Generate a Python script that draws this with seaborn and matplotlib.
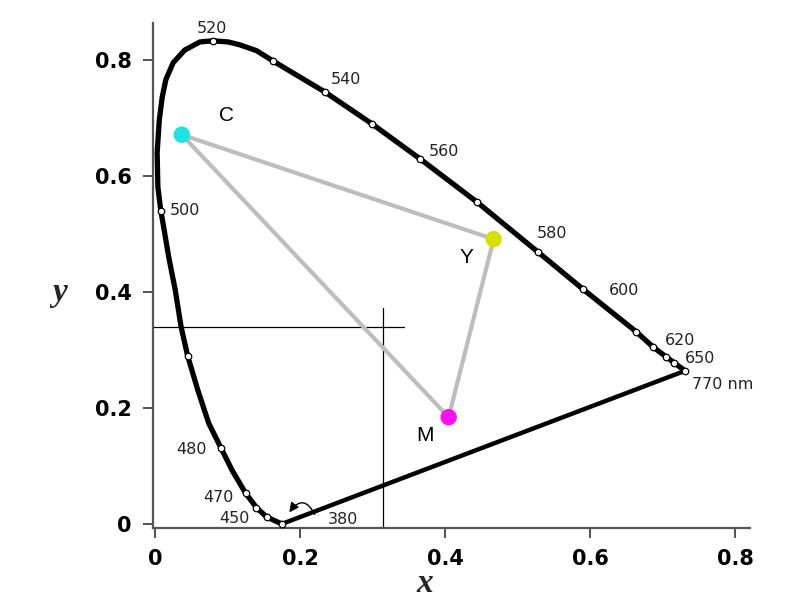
"""
CIE chromaticity diagram with a CMY triangle
"""

import matplotlib
matplotlib.use("Agg")
import matplotlib.pyplot as plt
import seaborn as sns
import pandas as pd

# spectral locus (starts at 380 nm, ends at 770 nm)
locus_x = [0.175, 0.154, 0.140, 0.125, 0.107, 0.091, 0.074, 0.059, 0.045, 0.036,
           0.028, 0.019, 0.011, 0.008, 0.004, 0.003, 0.006, 0.010, 0.015, 0.025,
           0.041, 0.062, 0.080, 0.101, 0.117, 0.140, 0.163, 0.234, 0.299, 0.366,
           0.444, 0.528, 0.590, 0.664, 0.687, 0.705, 0.716, 0.731]
locus_y = [0.000, 0.012, 0.028, 0.053, 0.091, 0.131, 0.174, 0.231, 0.290, 0.340,
           0.403, 0.460, 0.519, 0.540, 0.581, 0.640, 0.697, 0.736, 0.766, 0.795,
           0.817, 0.831, 0.833, 0.831, 0.826, 0.816, 0.798, 0.745, 0.690, 0.629,
           0.555, 0.469, 0.405, 0.331, 0.305, 0.288, 0.278, 0.264]
# which locus points carry a small wavelength marker
marked = [1, 1, 1, 1, 0, 1, 0, 0, 1, 0,
          0, 0, 0, 1, 0, 0, 0, 0, 0, 0,
          0, 0, 1, 0, 0, 0, 1, 1, 1, 1,
          1, 1, 1, 1, 1, 1, 1, 1]

wl_labels = ["520", "540", "560", "580", "600", "620", "650", "770 nm",
             "500", "480", "470", "450", "380"]
wl_x = [0.079, 0.263, 0.398, 0.547, 0.647, 0.724, 0.751, 0.740,
        0.021, 0.050, 0.087, 0.110, 0.259]
wl_y = [0.855, 0.766, 0.642, 0.500, 0.403, 0.317, 0.286, 0.240,
        0.540, 0.129, 0.045, 0.010, 0.007]

# primaries of the triangle
prim_names = ["C", "Y", "M"]
prim_x = [0.037, 0.467, 0.405]
prim_y = [0.671, 0.491, 0.184]
prim_colors = ["#1fe0e4", "#dcdc00", "#ff10f0"]
prim_label_x = [0.099, 0.430, 0.372]
prim_label_y = [0.705, 0.459, 0.152]

# reference cross
cross_x = 0.314
cross_y = 0.340


def main():
    sns.set_theme(style="ticks")
    plt.rcParams["font.family"] = ["DejaVu Sans"]

    fig = plt.figure(figsize=(8, 6), dpi=100)
    ax = fig.add_axes([0.191, 0.12, 0.746, 0.842])

    locus = pd.DataFrame({"x": locus_x, "y": locus_y, "marked": marked})

    # reference cross lines
    ax.plot([-0.003, 0.344], [cross_y, cross_y], color="black", lw=0.9, zorder=1)
    ax.plot([cross_x, cross_x], [-0.01, 0.372], color="black", lw=0.9, zorder=1)

    # spectral locus and purple line
    sns.lineplot(data=locus, x="x", y="y", sort=False, estimator=None,
                 color="black", lw=3.8, ax=ax, zorder=3,
                 solid_joinstyle="round", solid_capstyle="round")
    ax.plot([locus_x[-1], locus_x[0]], [locus_y[-1], locus_y[0]],
            color="black", lw=3.2, zorder=3, solid_capstyle="round")
    dots = locus[locus["marked"] == 1]
    sns.scatterplot(data=dots, x="x", y="y", s=22, color="white",
                    edgecolor="black", linewidth=0.9, ax=ax, zorder=4)

    # small arrow near 380 nm
    ax.annotate("", xy=(0.183, 0.016), xytext=(0.222, 0.012),
                arrowprops=dict(arrowstyle="-|>", connectionstyle="arc3,rad=0.9",
                                color="black", lw=1.0, mutation_scale=14), zorder=5)

    for lab, tx, ty in zip(wl_labels, wl_x, wl_y):
        ha = "left" if lab in ("500", "770 nm") else "center"
        ax.text(tx, ty, lab, ha=ha, va="center", fontsize=11.5, color="#222222")

    # CMY triangle
    tri_x = prim_x + [prim_x[0]]
    tri_y = prim_y + [prim_y[0]]
    ax.plot(tri_x, tri_y, color="#bdbdbd", lw=3, zorder=5, solid_capstyle="round")
    sns.scatterplot(x=prim_x, y=prim_y, hue=prim_names, palette=prim_colors,
                    s=140, edgecolor="none", legend=False, ax=ax, zorder=6)
    for name, tx, ty in zip(prim_names, prim_label_x, prim_label_y):
        ax.text(tx, ty, name, ha="center", va="center", fontsize=15,
                family="Liberation Sans", color="black")

    ax.set_xlim(-0.003, 0.82)
    ax.set_ylim(-0.007, 0.864)
    ax.set_xticks([0, 0.2, 0.4, 0.6, 0.8])
    ax.set_xticklabels(["0", "0.2", "0.4", "0.6", "0.8"])
    ax.set_yticks([0, 0.2, 0.4, 0.6, 0.8])
    ax.set_yticklabels(["0", "0.2", "0.4", "0.6", "0.8"])
    ax.tick_params(axis="both", direction="out", length=7, width=1.2,
                   colors="#333333", labelsize=15, pad=8)
    for lbl in ax.get_xticklabels() + ax.get_yticklabels():
        lbl.set_fontweight("bold")
        lbl.set_color("black")
    ax.set_xlabel("")
    ax.set_ylabel("")
    sns.despine(ax=ax)
    for side in ("left", "bottom"):
        ax.spines[side].set_color("#555555")
        ax.spines[side].set_linewidth(1.6)

    fig.text(0.531, 0.028, "x", ha="center", va="center", fontsize=24,
             family="Liberation Serif", style="italic", fontweight="bold")
    fig.text(0.075, 0.513, "y", ha="center", va="center", fontsize=24,
             family="Liberation Serif", style="italic", fontweight="bold")

    fig.savefig("out.png", dpi=100, facecolor="white")


if __name__ == "__main__":
    main()
